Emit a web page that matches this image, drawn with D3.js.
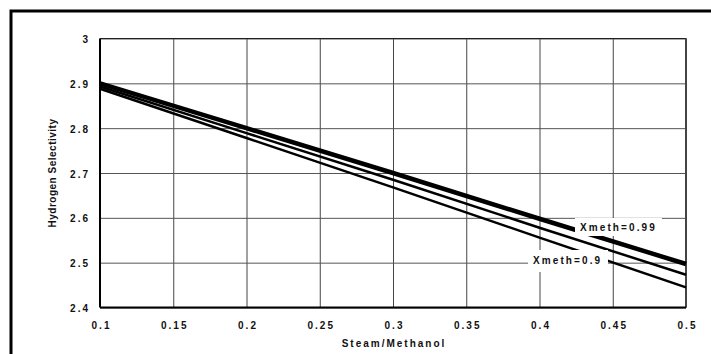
<!DOCTYPE html>
<html>
<head>
<meta charset="utf-8">
<script src="https://cdn.jsdelivr.net/npm/d3@7"></script>
<style>
  html, body { margin: 0; padding: 0; background: #fff; }
  svg { display: block; }
  text { font-family: "Liberation Sans", Arial, sans-serif; font-weight: bold; fill: #111; }
</style>
</head>
<body>
<svg id="chart" width="711" height="354"></svg>
<script>
// Steam/methanol ratio (x) and hydrogen selectivity (y) for each conversion curve
const steamRatio = [0.1, 0.2, 0.3, 0.4, 0.5];
const selectivity099 = [2.900, 2.800, 2.700, 2.598, 2.497];
const selectivity095 = [2.893, 2.789, 2.685, 2.578, 2.473];
const selectivity090 = [2.888, 2.778, 2.668, 2.556, 2.445];
const seriesNames = ["Xmeth=0.99", "Xmeth=0.95", "Xmeth=0.9"];
const seriesWidths = [4.5, 2.5, 2.5];

const xTicks = [0.1, 0.15, 0.2, 0.25, 0.3, 0.35, 0.4, 0.45, 0.5];
const xTickLabels = ["0.1", "0.15", "0.2", "0.25", "0.3", "0.35", "0.4", "0.45", "0.5"];
const yTicks = [2.4, 2.5, 2.6, 2.7, 2.8, 2.9, 3];
const yTickLabels = ["2.4", "2.5", "2.6", "2.7", "2.8", "2.9", "3"];

const svg = d3.select("#chart");
const plotLeft = 100, plotRight = 686, plotTop = 38.5, plotBottom = 307.5;

const x = d3.scaleLinear().domain([0.1, 0.5]).range([plotLeft, plotRight]);
const y = d3.scaleLinear().domain([2.4, 3]).range([plotBottom, plotTop]);

// outer frame
svg.append("rect")
  .attr("x", 11).attr("y", 11).attr("width", 740).attr("height", 400)
  .attr("fill", "none").attr("stroke", "#000").attr("stroke-width", 3);

// vertical gridlines + x tick labels
const gx = svg.append("g")
  .attr("transform", `translate(0,${plotBottom})`)
  .call(d3.axisBottom(x).tickValues(xTicks)
    .tickFormat((d, i) => xTickLabels[i])
    .tickSizeInner(-(plotBottom - plotTop)).tickSizeOuter(0));
gx.select(".domain").remove();
gx.selectAll(".tick line").attr("stroke", "#444").attr("stroke-width", 1);
gx.selectAll(".tick text")
  .attr("y", 21.8).attr("dy", null).attr("dx", 1)
  .style("font-size", "10px").style("letter-spacing", "2px")
  .attr("fill", "#111");

// horizontal gridlines + y tick labels
const gy = svg.append("g")
  .attr("transform", `translate(${plotLeft},0)`)
  .call(d3.axisLeft(y).tickValues(yTicks)
    .tickFormat((d, i) => yTickLabels[i])
    .tickSizeInner(-(plotRight - plotLeft)).tickSizeOuter(0));
gy.select(".domain").remove();
gy.selectAll(".tick line").attr("stroke", "#555").attr("stroke-width", 1);
gy.selectAll(".tick text")
  .attr("x", -10).attr("dy", 4)
  .style("font-size", "10px").style("letter-spacing", "2px")
  .attr("fill", "#111");

// plot border
svg.append("line").attr("x1", plotLeft).attr("x2", plotRight).attr("y1", plotTop).attr("y2", plotTop)
  .attr("stroke", "#222").attr("stroke-width", 1.2);
svg.append("line").attr("x1", plotRight).attr("x2", plotRight).attr("y1", plotTop).attr("y2", plotBottom)
  .attr("stroke", "#444").attr("stroke-width", 2);
svg.append("line").attr("x1", plotLeft).attr("x2", plotRight).attr("y1", plotBottom).attr("y2", plotBottom)
  .attr("stroke", "#000").attr("stroke-width", 2);
svg.append("line").attr("x1", plotLeft).attr("x2", plotLeft).attr("y1", plotTop).attr("y2", plotBottom)
  .attr("stroke", "#000").attr("stroke-width", 2);

// curves
const allSeries = [selectivity099, selectivity095, selectivity090];
const line = d3.line().x(d => x(d[0])).y(d => y(d[1]));
allSeries.forEach((vals, i) => {
  svg.append("path")
    .datum(steamRatio.map((s, j) => [s, vals[j]]))
    .attr("d", line)
    .attr("fill", "none")
    .attr("stroke", "#000")
    .attr("stroke-width", seriesWidths[i]);
});

// curve labels on white boxes
const labelBoxes = [
  { name: seriesNames[0], box: [575, 218, 87, 18], tx: 580, ty: 231 },
  { name: seriesNames[2], box: [528, 250, 80, 22], tx: 533, ty: 264.3 }
];
labelBoxes.forEach(l => {
  svg.append("rect")
    .attr("x", l.box[0]).attr("y", l.box[1])
    .attr("width", l.box[2]).attr("height", l.box[3])
    .attr("fill", "#fff");
  svg.append("text")
    .attr("x", l.tx).attr("y", l.ty)
    .style("font-size", "10px").style("letter-spacing", "2.1px")
    .text(l.name);
});

// axis titles
svg.append("text")
  .attr("x", 394).attr("y", 346.7)
  .attr("text-anchor", "middle")
  .style("font-size", "10px").style("letter-spacing", "2px")
  .text("Steam/Methanol");

svg.append("text")
  .attr("transform", "translate(55.5,173) rotate(-90)")
  .attr("text-anchor", "middle")
  .style("font-size", "10px").style("letter-spacing", "0.5px")
  .text("Hydrogen Selectivity");
</script>
</body>
</html>
